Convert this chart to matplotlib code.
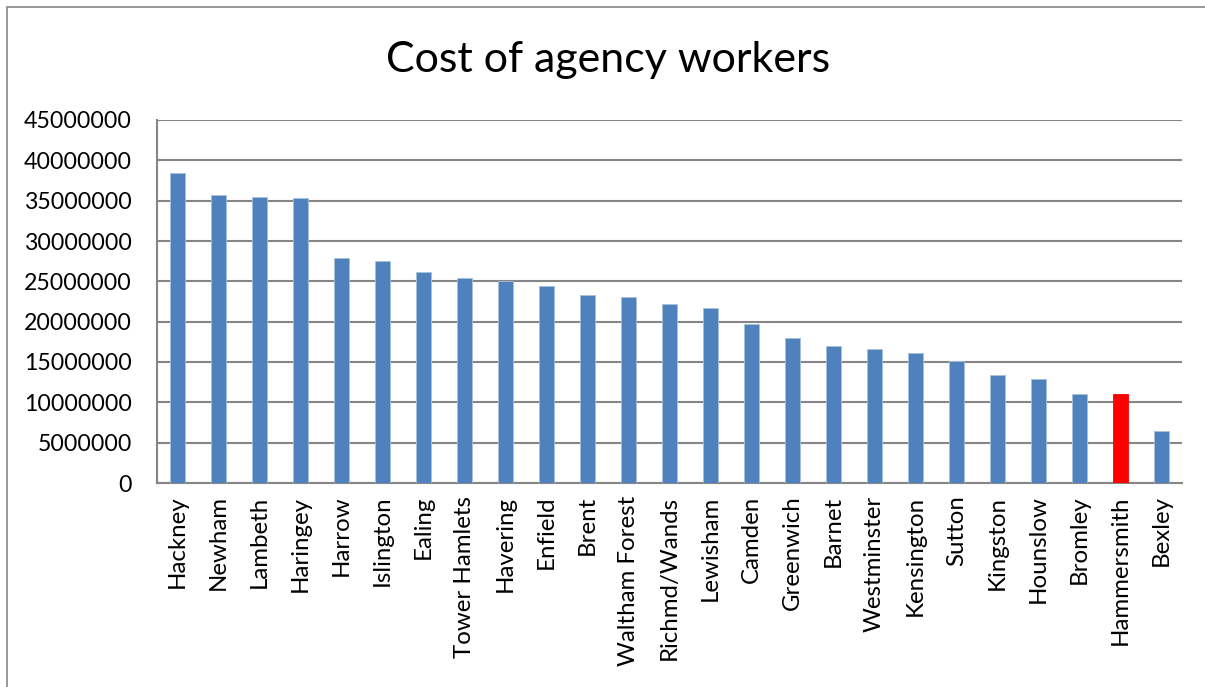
import matplotlib
matplotlib.use("Agg")
import matplotlib.pyplot as plt
from matplotlib.patches import Rectangle

boroughs = ["Hackney", "Newham", "Lambeth", "Haringey", "Harrow", "Islington", "Ealing",
            "Tower Hamlets", "Havering", "Enfield", "Brent", "Waltham Forest", "Richmd/Wands",
            "Lewisham", "Camden", "Greenwich", "Barnet", "Westminster", "Kensington", "Sutton",
            "Kingston", "Hounslow", "Bromley", "Hammersmith", "Bexley"]
costs = [38400000, 35750000, 35500000, 35350000, 27850000, 27500000, 26200000,
         25450000, 25000000, 24450000, 23350000, 23100000, 22200000, 21750000,
         19670000, 17980000, 16950000, 16550000, 16150000, 15070000, 13400000,
         12950000, 11000000, 11000000, 6400000]
highlight = "Hammersmith"
y_ticks = [0, 5000000, 10000000, 15000000, 20000000, 25000000, 30000000, 35000000, 40000000, 45000000]

plt.rcParams['font.family'] = ['Lato', 'DejaVu Sans']

W, H = 1205, 687
fig = plt.figure(figsize=(W / 100, H / 100), dpi=100)
ax = fig.add_axes([157 / W, 1 - 483 / H, (1182 - 157) / W, (483 - 120) / H])

colors = ["#FF0000" if b == highlight else "#4F81BD" for b in boroughs]
x = list(range(len(boroughs)))
ax.bar(x, costs, width=0.39, color=colors, edgecolor=["#FF0000" if b == highlight else "#A7C0DE" for b in boroughs],
       linewidth=0.6, zorder=3)

ax.set_xlim(-0.5, len(boroughs) - 0.5)
ax.set_ylim(0, 45000000)
ax.set_yticks(y_ticks)
ax.set_yticklabels([str(v) for v in y_ticks], fontsize=16.7)
ax.set_xticks(x)
ax.set_xticklabels(boroughs, rotation=90, fontsize=17.3, va='top', ha='center')
ax.tick_params(axis='y', length=0, pad=18)
ax.tick_params(axis='x', length=0, pad=9)
ax.grid(axis='y', color='#868686', linewidth=1.5, zorder=0)
for s in ['top', 'right']:
    ax.spines[s].set_visible(False)
for s in ['left', 'bottom']:
    ax.spines[s].set_color('#868686')
    ax.spines[s].set_linewidth(1.5)

fig.text(608 / W, 1 - 60 / H, "Cost of agency workers", fontsize=31, ha='center', va='center')

fig.patches.append(Rectangle((7 / W, -0.1), 1.2, 1.1 - 7 / H, transform=fig.transFigure,
                             fill=False, edgecolor='#868686', linewidth=1.2))

fig.savefig("out.png", dpi=100)
